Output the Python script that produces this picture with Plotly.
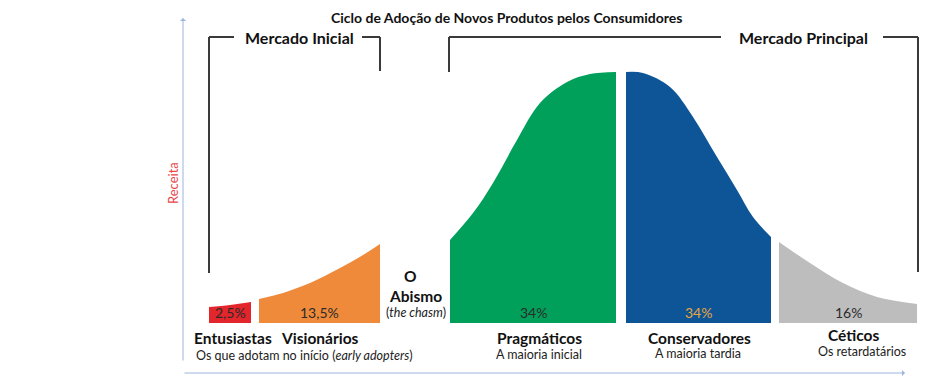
import plotly.graph_objects as go

# ---------------- data ----------------
title = "Ciclo de Adoção de Novos Produtos pelos Consumidores"
segments = ["Entusiastas", "Visionários", "Pragmáticos", "Conservadores", "Céticos"]
shares = ["2,5%", "13,5%", "34%", "34%", "16%"]
subtitles = ["", "", "A maioria inicial", "A maioria tardia", "Os retardatários"]
colors = ["#e2262b", "#ef8a3a", "#00a05b", "#0d5597", "#bdbdbd"]
share_colors = ["#2b2b2b", "#2b2b2b", "#2b2b2b", "#e7a53e", "#2b2b2b"]

# curve samples (horizontal position along the adoption axis, relative revenue 0-100)
x_entusiastas = [209, 230, 251]
h_entusiastas = [6.4, 7.2, 8.4]
x_visionarios = [259, 283, 310, 340, 363, 380]
h_visionarios = [9.6, 12.0, 15.9, 21.9, 27.1, 31.5]
x_pragmaticos = [450, 473, 493, 517, 540, 567, 590, 616]
h_pragmaticos = [33.1, 43.8, 55.8, 72.9, 87.6, 96.0, 99.2, 100.0]
x_conservadores = [626, 643, 670, 693, 717, 737, 753, 771]
h_conservadores = [100.0, 99.6, 94.0, 82.1, 66.1, 53.0, 42.2, 34.3]
x_ceticos = [779, 810, 843, 877, 917]
h_ceticos = [32.3, 23.9, 15.9, 10.4, 7.6]

curve_x = [x_entusiastas, x_visionarios, x_pragmaticos, x_conservadores, x_ceticos]
curve_h = [h_entusiastas, h_visionarios, h_pragmaticos, h_conservadores, h_ceticos]

# ---------------- layout helpers ----------------
W, H = 935, 376
OFF = 8             # page body margin compensation
BASE = 323          # baseline pixel row
K = 100 / 251       # revenue units per pixel
FONT = "Lato"


def px(x):
    return (x - OFF) / W


def py(y):
    return 1 - (y - OFF) / H


fig = go.Figure()

for i in range(len(segments)):
    fig.add_trace(go.Scatter(
        x=curve_x[i], y=curve_h[i], mode="lines",
        line=dict(width=0, shape="spline", color=colors[i]),
        fill="tozeroy", fillcolor=colors[i], hoverinfo="skip", showlegend=False,
    ))
    cx = (curve_x[i][0] + curve_x[i][-1]) / 2
    fig.add_annotation(x=cx, y=(BASE - 312) * K, xref="x", yref="y", text=shares[i],
                       showarrow=False, font=dict(family=FONT, size=14, color=share_colors[i]))

ann = []


def txt(x, y, text, size, bold=False, color="#111111", yanchor="middle"):
    if bold:
        text = "<b>" + text + "</b>"
    ann.append(dict(x=px(x), y=py(y), xref="paper", yref="paper", text=text, showarrow=False,
                    borderpad=0, xanchor="center", yanchor=yanchor,
                    font=dict(family=FONT, size=size, color=color)))


txt(506, OFF, title, 14, True, yanchor="top")
txt(299, 37, "Mercado Inicial", 16, True)
txt(803, 37, "Mercado Principal", 16, True)

# segment names
name_pos = [(233, 338), (320, 338), (539, 338), (699, 338), (854, 335)]
sub_pos = [None, None, (539, 354), (698, 353), (862, 351)]
for i, name in enumerate(segments):
    txt(name_pos[i][0], name_pos[i][1], name, 15.5, True)
    if subtitles[i]:
        txt(sub_pos[i][0], sub_pos[i][1], subtitles[i], 12.5, False, "#222222")
txt(304, 355, "Os que adotam no início (<i>early adopters</i>)", 12.5, False, "#222222")

# chasm
txt(410, 276, "O", 15.5, True)
txt(415, 296, "Abismo", 15.5, True)
txt(416, 312, "(<i>the chasm</i>)", 12.5, False, "#222222")

# y label
ann.append(dict(x=px(173), y=py(183), xref="paper", yref="paper", text="Receita", showarrow=False,
                xanchor="center", yanchor="middle",
                textangle=-90, font=dict(family=FONT, size=13, color="#e8474b")))

# axis arrows
AX = "#9db4dc"
ann.append(dict(x=183, y=(BASE - 18) * K, xref="x", yref="y", ax=0, ay=344, axref="pixel", ayref="pixel",
                showarrow=True, arrowhead=1, arrowsize=1, arrowwidth=1, arrowcolor=AX, text=""))
ann.append(dict(x=905, y=(BASE - 373) * K, xref="x", yref="y", ax=-722, ay=0, axref="pixel", ayref="pixel",
                showarrow=True, arrowhead=1, arrowsize=1, arrowwidth=1, arrowcolor=AX, text=""))

# brackets
BR = dict(color="#3a3a3a", width=2)
shapes = []


def seg(x0, y0, x1, y1):
    shapes.append(dict(type="line", xref="paper", yref="paper", x0=px(x0), y0=py(y0),
                       x1=px(x1), y1=py(y1), line=BR))


seg(209, 37, 209, 273)
seg(209, 37, 234, 37)
seg(362, 37, 380, 37)
seg(380, 37, 380, 71)
seg(449, 37, 449, 72)
seg(449, 37, 721, 37)
seg(883, 37, 918, 37)
seg(918, 37, 918, 272)

fig.update_layout(
    width=W, height=H, margin=dict(l=0, r=0, t=0, b=0),
    paper_bgcolor="white", plot_bgcolor="white",
    xaxis=dict(range=[OFF, W + OFF], visible=False, fixedrange=True),
    yaxis=dict(range=[(BASE - H - OFF) * K, (BASE - OFF) * K], visible=False, fixedrange=True),
    annotations=list(fig.layout.annotations) + ann,
    shapes=shapes,
    showlegend=False,
)

fig.write_html("out.html")
